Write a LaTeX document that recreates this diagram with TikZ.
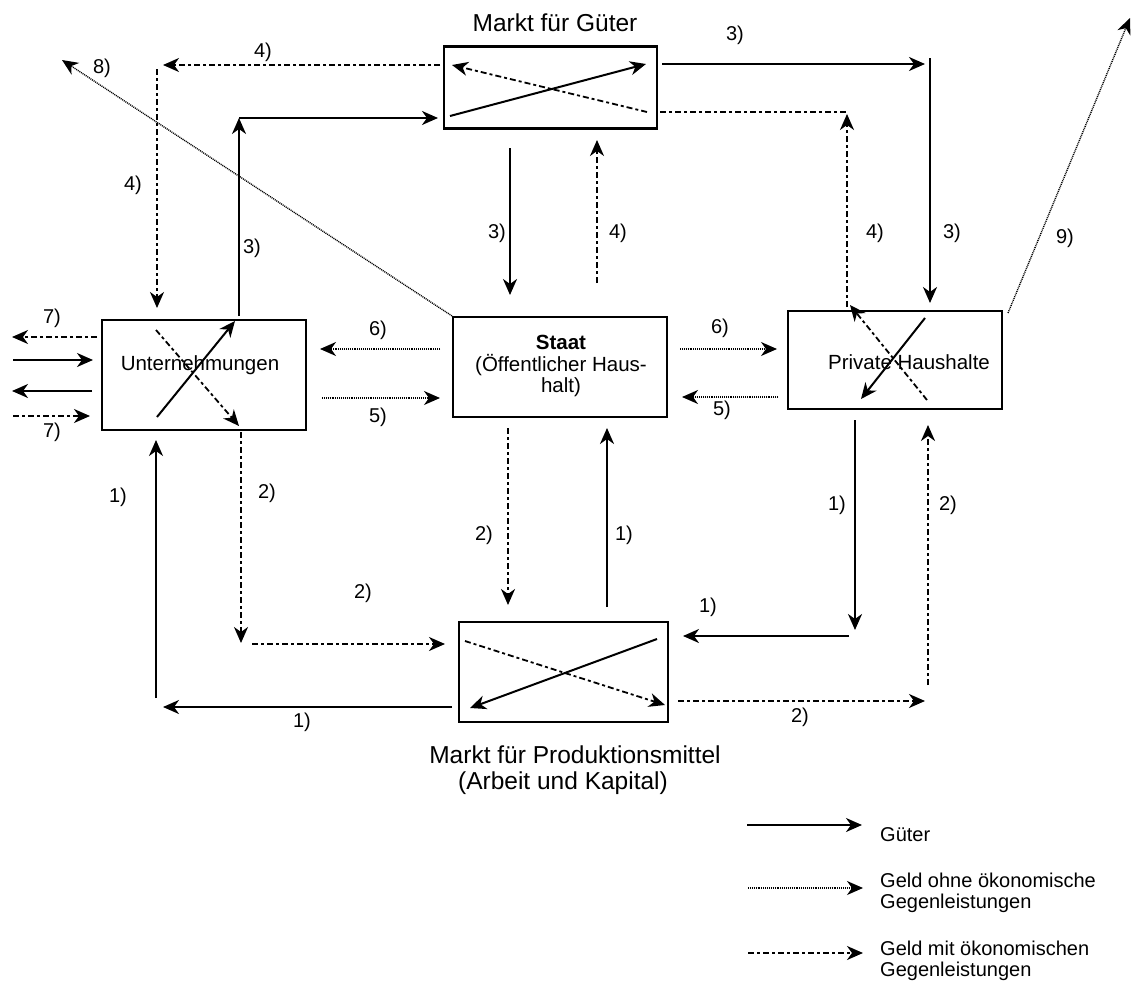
\documentclass[tikz,border=0pt]{standalone}
\usepackage{fontspec}
\setmainfont{Liberation Sans}
\usetikzlibrary{arrows.meta}
\begin{document}
\begin{tikzpicture}[x=1pt,y=-1pt,
  tip/.style={-{Stealth[length=16pt,width=14pt,inset=5pt]}},
  goods/.style={tip,line width=2pt},
  paid/.style={tip,line width=1.8pt,dash pattern=on 6pt off 3pt on 3pt off 3pt},
  gift/.style={tip,line width=1.4pt,dash pattern=on 1pt off 0.9pt},
  box/.style={draw,line width=2.2pt,inner sep=0pt},
  lab/.style={font=\fontsize{20}{22}\selectfont,inner sep=0pt},
  txt/.style={font=\fontsize{20.5}{21.5}\selectfont,inner sep=0pt,align=center},
  ttl/.style={font=\fontsize{24.5}{28}\selectfont,inner sep=0pt},
  leg/.style={font=\fontsize{20}{21}\selectfont,inner sep=0pt,align=left,anchor=west},
]
\useasboundingbox (0,0) rectangle (1133,985);

% ---- boxes ----
\node[box,minimum width=213pt,minimum height=82pt]  (mg) at (550.5,87.5) {};
\node[box,minimum width=204pt,minimum height=110pt] (un) at (204,375) {};
\node[box,minimum width=214pt,minimum height=100pt] (st) at (560,367) {};
\node[box,minimum width=214pt,minimum height=98pt]  (ph) at (895,360) {};
\node[box,minimum width=209pt,minimum height=100pt] (mp) at (563.5,672) {};

% ---- coordinates of free arrow ends ----
\coordinate (a1) at (440,65);  \coordinate (a2) at (163,65);
\coordinate (a3) at (157,69);  \coordinate (a4) at (157,308);
\coordinate (b1) at (239,316); \coordinate (b2) at (239,118); \coordinate (b3) at (438,118);
\coordinate (c2) at (62,60);
\coordinate (d1) at (662,64);  \coordinate (d2) at (925,64);
\coordinate (d3) at (930,58);  \coordinate (d4) at (930,303);
\coordinate (e1) at (847,307); \coordinate (e2) at (847,114);
\coordinate (e3) at (660,112); \coordinate (e4) at (847,112);
\coordinate (f1) at (510,148); \coordinate (f2) at (510,295);
\coordinate (f3) at (597,283); \coordinate (f4) at (597,140);
\coordinate (g1) at (440,349); \coordinate (g2) at (320,349);
\coordinate (g3) at (322,398); \coordinate (g4) at (440,398);
\coordinate (h1) at (680,349); \coordinate (h2) at (777,349);
\coordinate (h3) at (778,397); \coordinate (h4) at (682,397);
\coordinate (i1) at (508,428); \coordinate (i2) at (508,605);
\coordinate (i3) at (607,607); \coordinate (i4) at (607,428);
\coordinate (j1) at (241,432); \coordinate (j2) at (241,643);
\coordinate (j3) at (252,644); \coordinate (j4) at (445,644);
\coordinate (k1) at (452,707); \coordinate (k2) at (163,707);
\coordinate (k3) at (156,698); \coordinate (k4) at (156,440);
\coordinate (l1) at (855,420); \coordinate (l2) at (855,630);
\coordinate (l3) at (849,636); \coordinate (l4) at (683,636);
\coordinate (m1) at (678,701); \coordinate (m2) at (925,701);
\coordinate (m3) at (928,685); \coordinate (m4) at (928,425);
\coordinate (n1) at (1008,313); \coordinate (n2) at (1130,18);
\coordinate (o1) at (97,337);  \coordinate (o2) at (12,337);
\coordinate (p1) at (13,360);  \coordinate (p2) at (93,360);
\coordinate (q1) at (92,391);  \coordinate (q2) at (12,391);
\coordinate (r1) at (13,416);  \coordinate (r2) at (90,416);
% crossing arrows inside the boxes
\coordinate (s1) at (450,116); \coordinate (s2) at (646,64);
\coordinate (s3) at (647,112); \coordinate (s4) at (452,65);
\coordinate (t1) at (157,417); \coordinate (t2) at (235,321);
\coordinate (t3) at (156,330); \coordinate (t4) at (239,426);
\coordinate (u1) at (925,318); \coordinate (u2) at (861,399);
\coordinate (u3) at (927,400); \coordinate (u4) at (850,305);
\coordinate (v1) at (657,639); \coordinate (v2) at (470,708);
\coordinate (v3) at (465,641); \coordinate (v4) at (665,705);

% ---- flows ----
\draw[paid] (a1) -- (a2);
\draw[paid] (a3) -- (a4);
\draw[goods] (b1) -- (b2);
\draw[goods] (b2) -- (b3);
\draw[gift] (st.north west) -- (c2);
\draw[goods] (d1) -- (d2);
\draw[goods] (d3) -- (d4);
\draw[paid] (e1) -- (e2);
\draw[paid,-] (e3) -- (e4);
\draw[goods] (f1) -- (f2);
\draw[paid] (f3) -- (f4);
\draw[gift] (g1) -- (g2);
\draw[gift] (g3) -- (g4);
\draw[gift] (h1) -- (h2);
\draw[gift] (h3) -- (h4);
\draw[paid] (i1) -- (i2);
\draw[goods] (i3) -- (i4);
\draw[paid] (j1) -- (j2);
\draw[paid] (j3) -- (j4);
\draw[goods] (k1) -- (k2);
\draw[goods] (k3) -- (k4);
\draw[goods] (l1) -- (l2);
\draw[goods] (l3) -- (l4);
\draw[paid] (m1) -- (m2);
\draw[paid] (m3) -- (m4);
\draw[gift] (n1) -- (n2);
\draw[paid] (o1) -- (o2);
\draw[goods] (p1) -- (p2);
\draw[goods] (q1) -- (q2);
\draw[paid] (r1) -- (r2);

\draw[goods] (s1) -- (s2);
\draw[paid]  (s3) -- (s4);
\draw[goods] (t1) -- (t2);
\draw[paid]  (t3) -- (t4);
\draw[goods] (u1) -- (u2);
\draw[paid]  (u3) -- (u4);
\draw[goods] (v1) -- (v2);
\draw[paid]  (v3) -- (v4);

% ---- texts ----
\node[ttl] (tmg) at (555,23) {Markt für Güter};
\node[txt] (tun) at (200,365) {Unternehmungen};
\node[txt] (tst) at (561,366) {\textbf{Staat}\\(Öffentlicher Haus-\\halt)};
\node[txt] (tph) at (909,362) {Private Haushalte};
\node[ttl] (tmp1) at (575,755) {Markt für Produktionsmittel};
\node[ttl] (tmp2) at (563,783) {(Arbeit und Kapital)};

% ---- flow numbers ----
\node[lab] (n4a) at (263,52) {4)};
\node[lab] (n8)  at (102,68) {8)};
\node[lab] (n4b) at (133,185) {4)};
\node[lab] (n3a) at (252,248) {3)};
\node[lab] (n3b) at (735,35) {3)};
\node[lab] (n3c) at (497,233) {3)};
\node[lab] (n4c) at (618,233) {4)};
\node[lab] (n4d) at (875,233) {4)};
\node[lab] (n3d) at (952,233) {3)};
\node[lab] (n9)  at (1065,238) {9)};
\node[lab] (n7a) at (52,318) {7)};
\node[lab] (n7b) at (52,432) {7)};
\node[lab] (n6a) at (378,330) {6)};
\node[lab] (n5a) at (378,417) {5)};
\node[lab] (n6b) at (720,328) {6)};
\node[lab] (n5b) at (722,410) {5)};
\node[lab] (n1a) at (118,497) {1)};
\node[lab] (n2a) at (267,493) {2)};
\node[lab] (n2b) at (484,535) {2)};
\node[lab] (n1b) at (624,535) {1)};
\node[lab] (n1c) at (837,505) {1)};
\node[lab] (n2c) at (948,505) {2)};
\node[lab] (n2d) at (363,593) {2)};
\node[lab] (n1d) at (708,607) {1)};
\node[lab] (n1e) at (302,722) {1)};
\node[lab] (n2e) at (800,717) {2)};

% ---- legend ----
\coordinate (w1) at (747,825); \coordinate (w2) at (862,825);
\coordinate (x1) at (748,888); \coordinate (x2) at (863,888);
\coordinate (y1) at (748,953); \coordinate (y2) at (863,953);
\draw[goods] (w1) -- (w2);
\draw[gift]  (x1) -- (x2);
\draw[paid]  (y1) -- (y2);
\node[leg] (lg1) at (880,835) {Güter};
\node[leg] (lg2) at (880,892.5) {Geld ohne ökonomische\\Gegenleistungen};
\node[leg] (lg3) at (880,961) {Geld mit ökonomischen\\Gegenleistungen};
\end{tikzpicture}
\end{document}
